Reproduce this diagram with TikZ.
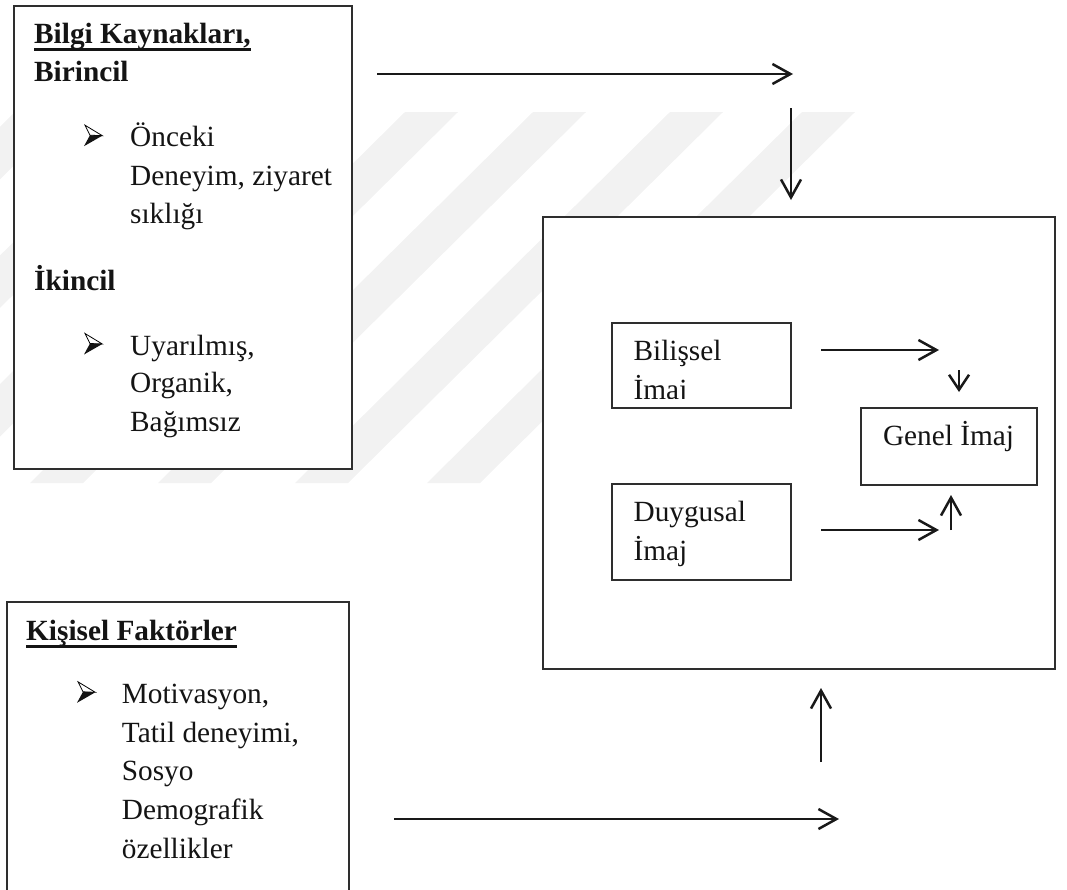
\documentclass[tikz,border=0pt]{standalone}
\usepackage{fontspec}
\setmainfont{Liberation Serif}
\usetikzlibrary{arrows.meta}

% underline set at a fixed depth below the baseline
\newcommand\wordul[1]{\setbox0\hbox{#1}\rlap{\rule[-7.6pt]{\wd0}{2.5pt}}\box0}

% three-dimensional arrowhead bullet, placed at its baseline-left point
\newcommand\arrowbullet[1]{%
  \begin{scope}[shift={#1}]
    \draw[line width=0.8pt, fill=white, line join=miter] (1,-21.5) -- (18.3,-11) -- (6,-11.5) -- cycle;
    \fill[black!92] (6,-11.5) -- (18.3,-11) -- (0,-0.5) -- cycle;
  \end{scope}}

\begin{document}
\begin{tikzpicture}[x=1pt,y=-1pt,
  frame/.style={draw=black!82, line width=1.7pt, fill=white, rectangle,
                inner sep=0pt, outer sep=0pt, anchor=north west},
  conn/.style={draw=black!90, line width=2.5pt,
               -{Straight Barb[length=18pt,width=20pt]}},
  shortconn/.style={conn, -{Straight Barb[length=15pt,width=20pt]}},
  txt/.style={anchor=base west, inner sep=0pt, text=black!92,
              font=\fontsize{29.3}{38.5}\selectfont},
  hd/.style={txt, font=\fontsize{29.3}{38.5}\selectfont\bfseries},
  stripe/.style={fill=black!5, draw=none}]

\useasboundingbox (0,0) rectangle (1067,889);

% faint diagonal background stripes
\foreach \s in {15,145,275,405,533,670,802}
  \fill[stripe] (\s,112) -- (\s+53,112) -- (\s-322,483) -- (\s-375,483) -- cycle;

% ---------- information sources ----------
\node[frame, minimum width=338pt, minimum height=463pt] (src) at (14,6) {};
\node[hd] (srcA) at (34,43.3) {\wordul{Bilgi Kaynakları,}};
\node[hd] (srcB) at (34,81.7) {Birincil};
\arrowbullet{(84,146.7)}
\node[txt] (p1) at (130,146.7) {Önceki};
\node[txt] (p2) at (130,185) {Deneyim, ziyaret};
\node[txt] (p3) at (130,223.3) {sıklığı};
\node[hd] (srcC) at (34,290) {İkincil};
\arrowbullet{(84,355)}
\node[txt] (s1) at (130,355) {Uyarılmış,};
\node[txt] (s2) at (130,392.7) {Organik,};
\node[txt] (s3) at (130,431.7) {Bağımsız};

% ---------- personal factors (runs past the lower edge) ----------
\node[frame, minimum width=342pt, minimum height=320pt] (pers) at (7,602) {};
\node[hd] (persA) at (26,640) {\wordul{Kişisel Faktörler}};
\arrowbullet{(77,703.3)}
\node[txt] (f1) at (121.7,703.3) {Motivasyon,};
\node[txt] (f2) at (121.7,742) {Tatil deneyimi,};
\node[txt] (f3) at (121.7,780.7) {Sosyo};
\node[txt] (f4) at (121.7,819.3) {Demografik};
\node[txt] (f5) at (121.7,858.3) {özellikler};

% ---------- image formation ----------
\node[frame, minimum width=512pt, minimum height=452pt] (img) at (543,217) {};
\node[frame, minimum width=179pt, minimum height=85pt] (cog) at (612,323) {};
\node[frame, minimum width=179pt, minimum height=96pt] (aff) at (612,484) {};
\node[frame, minimum width=176pt, minimum height=77pt] (gen) at (861,408) {};

\begin{scope}
  \clip (613,324) rectangle (790,398.6);
  \node[txt] (cogA) at (633.4,360.7) {Bilişsel};
  \node[txt] (cogB) at (633.4,399) {İmaj};
\end{scope}
\node[txt] (affA) at (633.4,521) {Duygusal};
\node[txt] (affB) at (633.4,560) {İmaj};
\node[txt] (genA) at (882.8,445.4) {Genel İmaj};

% ---------- connectors ----------
\coordinate (topS) at (377,74);   \coordinate (topE) at (793,74);
\coordinate (dnS)  at (791,108);  \coordinate (dnE)  at (791,200);
\coordinate (cogS) at (821,350);  \coordinate (cogE) at (939,350);
\coordinate (cdS)  at (959,370);  \coordinate (cdE)  at (959,392);
\coordinate (affS) at (821,530);  \coordinate (affE) at (939,530);
\coordinate (auS)  at (951,530);  \coordinate (auE)  at (951,495);
\coordinate (botS) at (394,819);  \coordinate (botE) at (839,819);
\coordinate (upS)  at (821,762);  \coordinate (upE)  at (821,688);

\draw[conn] (topS) -- (topE);
\draw[conn] (dnS) -- (dnE);
\draw[conn] (cogS) -- (cogE);
\draw[shortconn] (cdS) -- (cdE);
\draw[conn] (affS) -- (affE);
\draw[conn] (auS) -- (auE);
\draw[conn] (botS) -- (botE);
\draw[conn] (upS) -- (upE);

\end{tikzpicture}
\end{document}
